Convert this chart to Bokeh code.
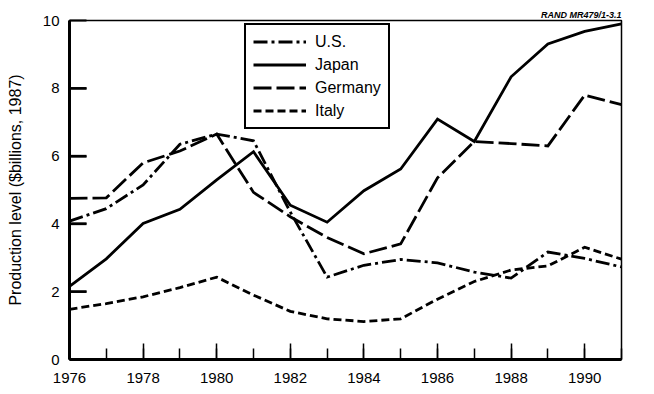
from bokeh.plotting import figure
from bokeh.models import Title, FixedTicker
from bokeh.embed import file_html
from bokeh.resources import INLINE

years = list(range(1976, 1992))
us = [4.08, 4.45, 5.15, 6.35, 6.65, 6.45, 4.35, 2.43, 2.78, 2.95, 2.85, 2.58, 2.40, 3.17, 2.98, 2.73]
japan = [2.16, 2.97, 4.01, 4.43, 5.30, 6.13, 4.55, 4.05, 4.98, 5.62, 7.09, 6.43, 8.34, 9.31, 9.68, 9.90]
germany = [4.75, 4.77, 5.80, 6.15, 6.65, 4.93, 4.21, 3.60, 3.12, 3.41, 5.36, 6.43, 6.37, 6.30, 7.80, 7.52]
italy = [1.48, 1.65, 1.85, 2.12, 2.43, 1.90, 1.42, 1.20, 1.12, 1.20, 1.78, 2.30, 2.64, 2.76, 3.31, 2.96]

x_ticks = [1976, 1978, 1980, 1982, 1984, 1986, 1988, 1990]
x_minor = list(range(1976, 1992))
y_ticks = [0, 2, 4, 6, 8, 10]
y_inner_ticks = [2, 4, 6, 8]

FONT = "Liberation Sans"

p = figure(width=654, height=394,
           x_range=(1976, 1991), y_range=(0, 10),
           output_backend="svg", toolbar_location=None,
           min_border_left=69, min_border_right=33, min_border_top=20, min_border_bottom=35)

p.add_layout(Title(text="RAND MR479/1-3.1", align="right", text_font=FONT,
                   text_font_size="9px", text_font_style="bold italic",
                   text_color="black", standoff=2), "above")

p.xgrid.visible = False
p.ygrid.visible = False
p.outline_line_color = "black"
p.outline_line_width = 1.5
p.background_fill_color = None
p.border_fill_color = "white"

# inward y tick marks (about 17 px long)
tick_len_years = 17 * (x_minor[-1] - x_minor[0]) / 552.0
p.segment(x0=[x_minor[0]] * len(y_inner_ticks), y0=y_inner_ticks,
          x1=[x_minor[0] + tick_len_years] * len(y_inner_ticks), y1=y_inner_ticks,
          line_color="black", line_width=2.5, level="overlay")

series = [
    ("U.S.", us, "14 4 3 4"),
    ("Japan", japan, None),
    ("Germany", germany, "18 5"),
    ("Italy", italy, "8 4"),
]
for name, vals, dash in series:
    kw = dict(line_color="black", line_width=2.8, legend_label=name, line_join="miter")
    if dash:
        kw["line_dash"] = dash
    p.line(years, vals, **kw)

xa = p.xaxis[0]
xa.ticker = FixedTicker(ticks=x_ticks, minor_ticks=x_minor)
xa.axis_line_width = 3
xa.major_tick_in = 16
xa.major_tick_out = 0
xa.minor_tick_in = 11
xa.minor_tick_out = 0
xa.major_tick_line_width = 1.5
xa.minor_tick_line_width = 1.5
xa.major_tick_line_color = "black"
xa.minor_tick_line_color = "black"
xa.major_label_text_font = FONT
xa.major_label_text_font_size = "15px"
xa.major_label_text_color = "black"
xa.major_label_standoff = 13

ya = p.yaxis[0]
ya.ticker = FixedTicker(ticks=y_ticks, minor_ticks=[])
ya.axis_line_width = 3
ya.major_tick_in = 17
ya.major_tick_out = 0
ya.minor_tick_in = 0
ya.minor_tick_out = 0
ya.major_tick_line_width = 2
ya.major_tick_line_color = "black"
ya.major_label_text_font = FONT
ya.major_label_text_font_size = "15px"
ya.major_label_text_color = "black"
ya.major_label_standoff = 10
ya.axis_label = "Production level ($billions, 1987)"
ya.axis_label_text_font = FONT
ya.axis_label_text_font_size = "16px"
ya.axis_label_text_font_style = "normal"
ya.axis_label_text_color = "black"
ya.axis_label_standoff = 16

lg = p.legend[0]
lg.location = (175, 230)
lg.border_line_color = "black"
lg.border_line_alpha = 1
lg.border_line_width = 2
lg.background_fill_color = "white"
lg.background_fill_alpha = 1
lg.label_text_font = FONT
lg.label_text_font_size = "16px"
lg.label_text_color = "black"
lg.glyph_width = 53
lg.glyph_height = 19
lg.label_height = 19
lg.label_standoff = 9
lg.spacing = 4
lg.padding = 7
lg.margin = 0

open("out.html", "w").write(file_html(p, INLINE))
